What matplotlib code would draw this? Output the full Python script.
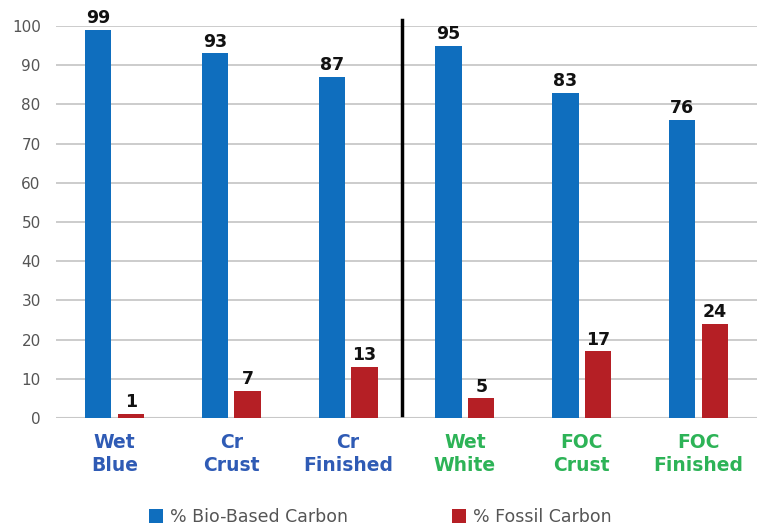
import matplotlib
matplotlib.use("Agg")
import matplotlib.pyplot as plt
import numpy as np

categories = ["Wet\nBlue", "Cr\nCrust", "Cr\nFinished", "Wet\nWhite", "FOC\nCrust", "FOC\nFinished"]
bio_based = [99, 93, 87, 95, 83, 76]
fossil = [1, 7, 13, 5, 17, 24]
label_colors = ["#2F5BB5"] * 3 + ["#2DB357"] * 3
y_ticks = [0, 10, 20, 30, 40, 50, 60, 70, 80, 90, 100]

blue = "#0F6EBE"
red = "#B51F25"

fig = plt.figure(figsize=(7.6, 5.31), dpi=100)
ax = fig.add_axes([56 / 760, 1 - 418 / 531, 701 / 760, 392 / 531])

x = np.arange(len(categories))
w = 0.225
off = 0.14
bars_b = ax.bar(x - off, bio_based, w, color=blue, label="% Bio-Based Carbon", zorder=3)
bars_r = ax.bar(x + off, fossil, w, color=red, label="% Fossil Carbon", zorder=3)

for bars, vals in ((bars_b, bio_based), (bars_r, fossil)):
    for b, v in zip(bars, vals):
        ax.text(b.get_x() + b.get_width() / 2, v + 0.7, str(v), ha="center", va="bottom",
                fontsize=12.5, fontweight="bold", color="#111111", zorder=4)

ax.set_xlim(-0.5, len(categories) - 0.5)
ax.set_ylim(0, 100)
ax.set_yticks(y_ticks)
ax.tick_params(axis="y", length=0, labelsize=11, labelcolor="#555555", pad=11)
ax.yaxis.grid(True, color="#C8C8C8", linewidth=1.3, zorder=0)
ax.set_axisbelow(True)
for s in ax.spines.values():
    s.set_visible(False)
ax.axhline(0, color="#C8C8C8", linewidth=1.5, zorder=2)

ax.set_xticks(x)
ax.set_xticklabels(categories, fontsize=13.5, fontweight="bold", linespacing=1.25)
for lbl, c in zip(ax.get_xticklabels(), label_colors):
    lbl.set_color(c)
ax.tick_params(axis="x", length=0, pad=11)

# separator between chromium and chrome-free series
ax.plot([2.46, 2.46], [0.8, 101.5], color="black", linewidth=2.5, clip_on=False, zorder=5)

leg = fig.legend(handles=[bars_b, bars_r], loc="center", bbox_to_anchor=(0.5, 1 - 517 / 531),
                 ncol=2, frameon=False, fontsize=12.5, handlelength=0.8, handleheight=0.8,
                 columnspacing=6.0, handletextpad=0.4)
for t in leg.get_texts():
    t.set_color("#555555")

fig.savefig("out.png", dpi=100)
